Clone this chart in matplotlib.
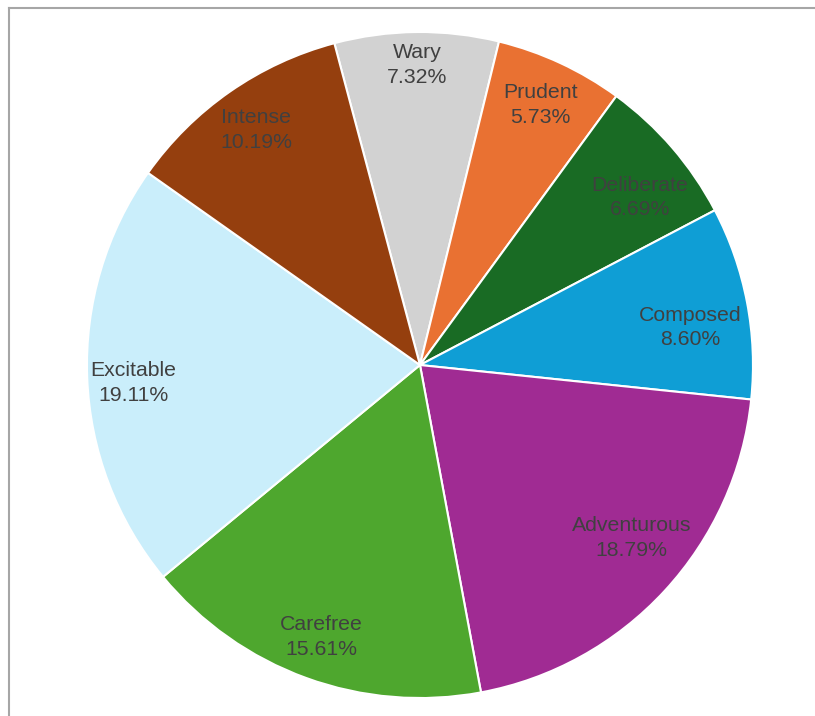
import numpy as np
import matplotlib
matplotlib.use('Agg')
from matplotlib import pyplot as plt
from matplotlib.lines import Line2D

# data (clockwise from the top)
labels = ['Wary', 'Prudent', 'Deliberate', 'Composed', 'Adventurous', 'Carefree', 'Excitable', 'Intense']
values = [7.32, 5.73, 6.69, 8.60, 18.79, 15.61, 19.11, 10.19]
colors = ['#d2d2d2', '#e97132', '#196b24', '#0f9ed5', '#a02b93', '#4ea72e', '#caeefb', '#953f0e']
# radial position of each label (fraction of radius) and small angle shift (deg)
label_r = [0.90, 0.86, 0.83, 0.82, 0.82, 0.87, 0.863, 0.86]
label_da = [0, 0, -3.5, -3, 3.4, 0, 1.4, 0]

plt.rcParams['font.family'] = ['Liberation Sans', 'DejaVu Sans']

fig = plt.figure(figsize=(8.15, 7.16), dpi=100)
ax = fig.add_axes([0.1067, 0.0251, 0.8172, 0.9302])

start = 104.9
wedges, _ = ax.pie(values, colors=colors, startangle=start, counterclock=False,
                   wedgeprops=dict(edgecolor='white', linewidth=1.5))
ax.set_xlim(-1, 1)
ax.set_ylim(-1, 1)
ax.set_aspect('equal')

# labels in the slices
for w, lab, v, r, da in zip(wedges, labels, values, label_r, label_da):
    mid = np.deg2rad((w.theta1 + w.theta2) / 2 + da)
    ax.text(r * np.cos(mid), r * np.sin(mid), '%s\n%.2f%%' % (lab, v),
            ha='center', va='center', fontsize=15.3, color='#404040', linespacing=1.38)

# grey frame at left and top
fig.add_artist(Line2D([8.5 / 815, 8.5 / 815], [0, 1 - 7.5 / 716], color='#a6a6a6', lw=1.5))
fig.add_artist(Line2D([8.5 / 815, 1], [1 - 7.5 / 716, 1 - 7.5 / 716], color='#a6a6a6', lw=1.5))

fig.savefig('out.png', dpi=100)
